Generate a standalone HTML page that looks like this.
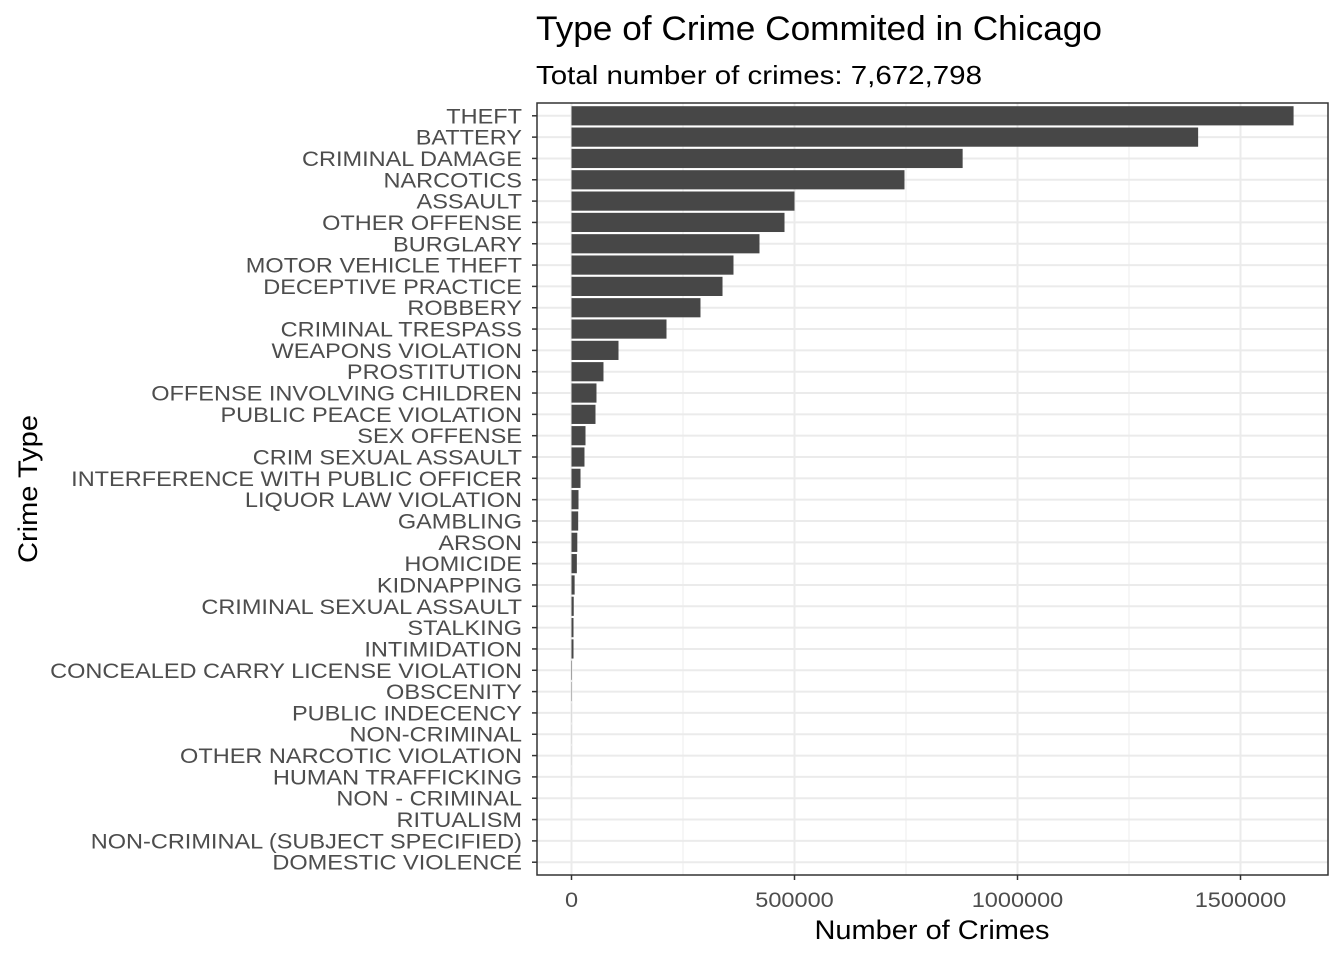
<!DOCTYPE html>
<html><head><meta charset="utf-8"><style>
body{margin:0;background:#fff}
svg{display:block;font-family:"Liberation Sans",Arial,sans-serif}
</style></head><body>
<svg id="chart" width="1344" height="960">
<text x="536" y="40" font-size="34" textLength="566" lengthAdjust="spacingAndGlyphs" fill="#000">Type of Crime Commited in Chicago</text>
<text x="536" y="84" font-size="26" textLength="446" lengthAdjust="spacingAndGlyphs" fill="#000">Total number of crimes: 7,672,798</text>
<text x="932" y="939" font-size="27" text-anchor="middle" textLength="235" lengthAdjust="spacingAndGlyphs" fill="#000">Number of Crimes</text>
<text transform="translate(37,489) rotate(-90)" font-size="27" text-anchor="middle" textLength="148" lengthAdjust="spacingAndGlyphs" fill="#000">Crime Type</text>
<g id="plot"></g>
</svg>
<script>
const categories=["THEFT","BATTERY","CRIMINAL DAMAGE","NARCOTICS","ASSAULT","OTHER OFFENSE","BURGLARY","MOTOR VEHICLE THEFT","DECEPTIVE PRACTICE","ROBBERY","CRIMINAL TRESPASS","WEAPONS VIOLATION","PROSTITUTION","OFFENSE INVOLVING CHILDREN","PUBLIC PEACE VIOLATION","SEX OFFENSE","CRIM SEXUAL ASSAULT","INTERFERENCE WITH PUBLIC OFFICER","LIQUOR LAW VIOLATION","GAMBLING","ARSON","HOMICIDE","KIDNAPPING","CRIMINAL SEXUAL ASSAULT","STALKING","INTIMIDATION","CONCEALED CARRY LICENSE VIOLATION","OBSCENITY","PUBLIC INDECENCY","NON-CRIMINAL","OTHER NARCOTIC VIOLATION","HUMAN TRAFFICKING","NON - CRIMINAL","RITUALISM","NON-CRIMINAL (SUBJECT SPECIFIED)","DOMESTIC VIOLENCE"];
const counts=[1619000,1405000,877000,746600,500000,477600,421500,363200,338600,289200,213000,105400,71700,56000,53800,31400,29100,20200,15700,15000,13000,12000,7000,5000,4500,4500,1000,700,200,180,140,80,40,20,10,1];
const xTicks=[0,500000,1000000,1500000];
const xTickLabels=["0","500000","1000000","1500000"];
const xMinor=[250000,750000,1250000];
const NS="http://www.w3.org/2000/svg";
const g=document.getElementById('plot');
const L=537,R=1328,T=103,B=875;
const x=v=>571.5+v*(223/500000);
const n=categories.length;
const step=(B-T)/(n+0.2);
const y=i=>T+step*0.6+i*step;
const WF=1.12;
function mk(t,a){const e=document.createElementNS(NS,t);for(const k in a)e.setAttribute(k,a[k]);g.appendChild(e);return e;}
function stretch(t){const w=t.getComputedTextLength();t.setAttribute('textLength',w*WF);t.setAttribute('lengthAdjust','spacingAndGlyphs');}
mk('rect',{x:L,y:T,width:R-L,height:B-T,fill:'#fff'});
xMinor.forEach(v=>{const e=mk('line',{x1:x(v),x2:x(v),y1:T,y2:B,stroke:'#f0f0f0','stroke-width':1.2});

});
xTicks.forEach(v=>{const e=mk('line',{x1:x(v),x2:x(v),y1:T,y2:B,stroke:'#ebebeb','stroke-width':2});

});
categories.forEach((c,i)=>{const e=mk('line',{x1:L,x2:R,y1:y(i),y2:y(i),stroke:'#ebebeb','stroke-width':2});

});
const bh=step*0.9;
categories.forEach((c,i)=>{
const r=mk('rect',{x:x(0),y:y(i)-bh/2,width:Math.max(0,x(counts[i])-x(0)),height:bh,fill:'#474747'});


const tk=mk('line',{x1:L-5,x2:L,y1:y(i),y2:y(i),stroke:'#333','stroke-width':1.5});


const t=mk('text',{x:L-15,y:y(i)+7.5,'font-size':21,'text-anchor':'end',fill:'#4d4d4d'});
t.textContent=c;


stretch(t);
});
xTicks.forEach((v,i)=>{
const tk=mk('line',{x1:x(v),x2:x(v),y1:B,y2:B+5,stroke:'#333','stroke-width':1.5});


const t=mk('text',{x:x(v),y:B+32,'font-size':21,'text-anchor':'middle',fill:'#4d4d4d'});
t.textContent=xTickLabels[i];


stretch(t);
});
const bd=mk('rect',{x:L,y:T,width:R-L,height:B-T,fill:'none',stroke:'#333','stroke-width':1.5});


</script>
</body></html>
